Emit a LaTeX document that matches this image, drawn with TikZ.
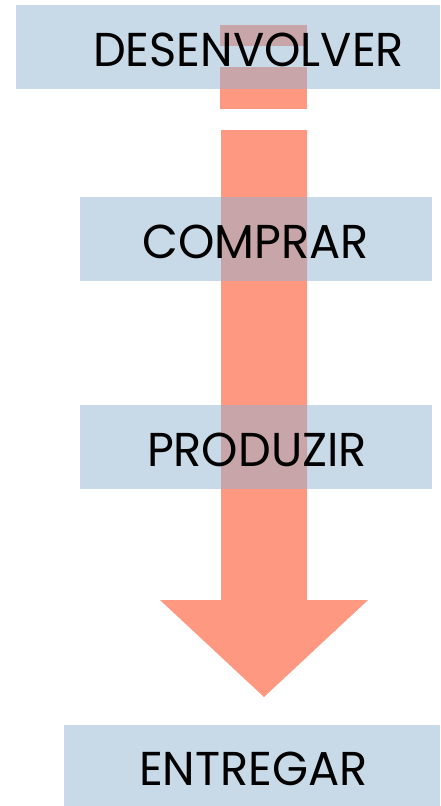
\documentclass[tikz,border=0pt]{standalone}
\usepackage{fontspec}
\setmainfont{Poppins}[FakeStretch=0.975]
\definecolor{boxblue}{HTML}{C8DAE8}
\definecolor{arrorange}{HTML}{FF9880}
\definecolor{mixcol}{HTML}{C8A5A8}
\begin{document}
\begin{tikzpicture}[x=1pt,y=-1pt,
  bluebox/.style={fill=boxblue,draw=none},
  orangepart/.style={fill=arrorange,draw=none},
  mixpart/.style={fill=mixcol,draw=none},
  label/.style={anchor=base,inner sep=0pt,font=\fontsize{47.5}{47.5}\selectfont,text=black}]
\useasboundingbox (0,0) rectangle (440,806);
% blue boxes
\fill[bluebox] (16,5) rectangle (440,89);
\fill[bluebox] (80,197) rectangle (432,281);
\fill[bluebox] (80,405) rectangle (432,489);
\fill[bluebox] (64,725) rectangle (440,806);
% arrow pieces
\fill[orangepart] (220,25) rectangle (307,109);
\fill[orangepart] (221,130) -- (307,130) -- (307,600) -- (368,600) -- (264,697) -- (160,600) -- (221,600) -- cycle;
% overlaps
\fill[mixpart] (220,25) rectangle (307,46);
\fill[bluebox] (220,46) rectangle (307,67);
\fill[mixpart] (220,67) rectangle (307,89);
\fill[mixpart] (221,197) rectangle (307,281);
\fill[mixpart] (221,405) rectangle (307,489);
% labels
\node[label] (desenvolver) at (248.5,66) {DESENVOLVER};
\node[label] (comprar) at (255.5,258) {COMPRAR};
\node[label] (produzir) at (257,466) {PRODUZIR};
\node[label] (entregar) at (253.5,785) {ENTREGAR};
\end{tikzpicture}
\end{document}
